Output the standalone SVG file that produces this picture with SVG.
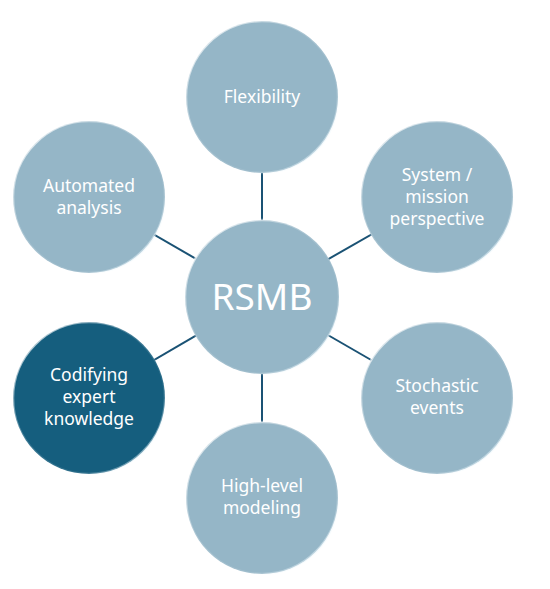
<svg xmlns="http://www.w3.org/2000/svg" width="550" height="589" viewBox="0 0 550 589">
<defs>
<linearGradient id="rim" x1="0" y1="0" x2="1" y2="1">
<stop offset="0" stop-color="#ffffff" stop-opacity="0.9"/>
<stop offset="0.45" stop-color="#ffffff" stop-opacity="0.15"/>
<stop offset="0.7" stop-color="#ffffff" stop-opacity="0.1"/>
<stop offset="1" stop-color="#d8eef8" stop-opacity="0.8"/>
</linearGradient>
<style>
.n{fill:#95b6c7;stroke:url(#rim);stroke-width:2.5}
.d{fill:#155e7e;stroke:url(#rim);stroke-width:2.5}
.t{font-family:"Noto Sans","Open Sans",sans-serif;font-size:17.5px;fill:#ffffff;text-anchor:middle}
.big{font-family:"Noto Sans","Open Sans",sans-serif;font-size:37px;fill:#ffffff;text-anchor:middle}
.c{stroke:#1a5274;stroke-width:2;fill:none}
</style>
</defs>
<rect width="550" height="589" fill="#ffffff"/>
<g id="connectors">
<line class="c" x1="262" y1="297" x2="262" y2="97"/>
<line class="c" x1="262" y1="297" x2="437" y2="197"/>
<line class="c" x1="262" y1="297" x2="437" y2="398"/>
<line class="c" x1="262" y1="297" x2="262" y2="498"/>
<line class="c" x1="262" y1="297" x2="89" y2="398"/>
<line class="c" x1="262" y1="297" x2="89" y2="197"/>
</g>
<g id="flexibility">
<circle class="n" cx="262" cy="97" r="76"/>
<text class="t" x="262" y="103">Flexibility</text>
</g>
<g id="system">
<circle class="n" cx="437" cy="197" r="76"/>
<text class="t" x="437" y="181">System /</text>
<text class="t" x="437" y="203">mission</text>
<text class="t" x="437" y="225">perspective</text>
</g>
<g id="stochastic">
<circle class="n" cx="437" cy="398" r="76"/>
<text class="t" x="437" y="392">Stochastic</text>
<text class="t" x="437" y="414">events</text>
</g>
<g id="highlevel">
<circle class="n" cx="262" cy="498" r="76"/>
<text class="t" x="262" y="492">High-level</text>
<text class="t" x="262" y="514">modeling</text>
</g>
<g id="codifying">
<circle class="d" cx="89" cy="398" r="76"/>
<text class="t" x="89" y="381">Codifying</text>
<text class="t" x="89" y="403">expert</text>
<text class="t" x="89" y="425">knowledge</text>
</g>
<g id="automated">
<circle class="n" cx="89" cy="197" r="76"/>
<text class="t" x="89" y="192">Automated</text>
<text class="t" x="89" y="214">analysis</text>
</g>
<g id="rsmb">
<circle class="n" cx="262" cy="297" r="77"/>
<text class="big" x="262" y="310">RSMB</text>
</g>
</svg>
